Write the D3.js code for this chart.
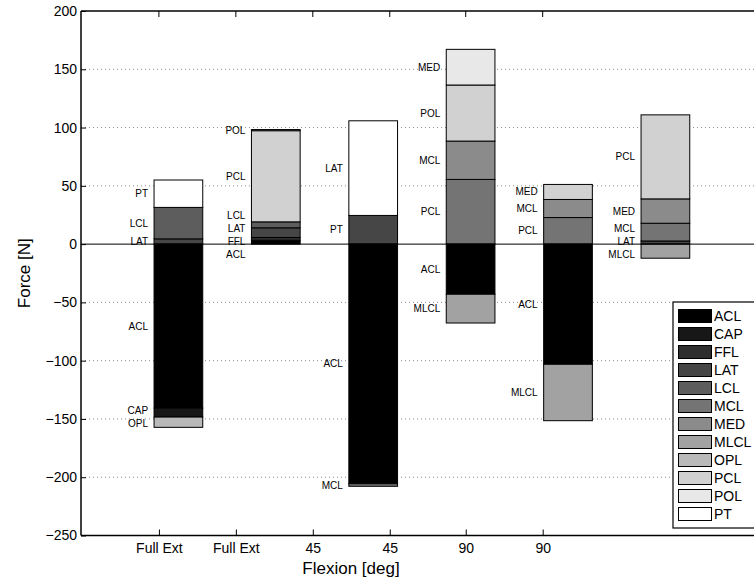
<!DOCTYPE html>
<html>
<head>
<meta charset="utf-8">
<script src="https://cdn.jsdelivr.net/npm/d3@7/dist/d3.min.js"></script>
<style>
  html, body { margin: 0; padding: 0; background: #fff; }
  svg { display: block; font-family: "Liberation Sans", Arial, Helvetica, sans-serif; }
</style>
</head>
<body>
<svg id="chart" width="754" height="582"></svg>
<script>
// Flexion positions shown along the x axis
const flexionLabels = ['Full Ext', 'Full Ext', '45', '45', '90', '90'];
const flexionTickPos = [0.8, 1.59, 2.38, 3.17, 3.95, 4.74];

// Ligament / structure names (legend order) and their grey shades
const ligaments = ['ACL', 'CAP', 'FFL', 'LAT', 'LCL', 'MCL', 'MED', 'MLCL', 'OPL', 'PCL', 'POL', 'PT'];

// Force ticks
const forceTicks = [200, 150, 100, 50, 0, -50, -100, -150, -200, -250];

// Per-bar segments: fill ligament, printed tag, force [N] (stacked from zero outward)
const bar1Fill = ['LAT', 'LCL', 'PT', 'ACL', 'CAP', 'OPL'];
const bar1Tag  = ['LAT', 'LCL', 'PT', 'ACL', 'CAP', 'OPL'];
const bar1Force = [4.5, 27.0, 23.5, -140.7, -7.7, -8.8];

const bar2Fill = ['ACL', 'FFL', 'LAT', 'LCL', 'PCL', 'POL'];
const bar2Tag  = ['ACL', 'FFL', 'LAT', 'LCL', 'PCL', 'POL'];
const bar2Force = [3.3, 2.4, 8.3, 5.1, 78.2, 1.0];

const bar3Fill = ['LAT', 'PT', 'ACL', 'MCL'];
const bar3Tag  = ['PT', 'LAT', 'ACL', 'MCL'];
const bar3Force = [24.6, 81.2, -205.6, -2.2];

const bar4Fill = ['MCL', 'MED', 'PCL', 'POL', 'ACL', 'MLCL'];
const bar4Tag  = ['PCL', 'MCL', 'POL', 'MED', 'ACL', 'MLCL'];
const bar4Force = [55.5, 32.9, 48.1, 30.6, -43.0, -24.7];

const bar5Fill = ['MCL', 'MED', 'PCL', 'ACL', 'MLCL'];
const bar5Tag  = ['PCL', 'MCL', 'MED', 'ACL', 'MLCL'];
const bar5Force = [22.8, 15.5, 12.9, -103.1, -48.4];

const bar6Fill = ['LAT', 'MCL', 'MED', 'PCL', 'MLCL'];
const bar6Tag  = ['LAT', 'MCL', 'MED', 'PCL', 'MLCL'];
const bar6Force = [2.7, 15.2, 20.9, 72.1, -12.1];

const bars = [
  { fill: bar1Fill, tag: bar1Tag, force: bar1Force },
  { fill: bar2Fill, tag: bar2Tag, force: bar2Force },
  { fill: bar3Fill, tag: bar3Tag, force: bar3Force },
  { fill: bar4Fill, tag: bar4Tag, force: bar4Force },
  { fill: bar5Fill, tag: bar5Tag, force: bar5Force },
  { fill: bar6Fill, tag: bar6Tag, force: bar6Force }
];

// ---- layout ----
const W = 754, H = 582;
const plot = { left: 81, right: 762.8, top: 11, bottom: 535.5 };
const svg = d3.select('#chart');

const x = d3.scaleLinear().domain([0, 7]).range([plot.left, plot.right]);
const y = d3.scaleLinear().domain([-250, 200]).range([plot.bottom, plot.top]);

// grey ramp: 12 evenly spaced levels from black to white
const shade = d3.scaleOrdinal()
  .domain(ligaments)
  .range(ligaments.map((d, i) => {
    const g = Math.round(255 * i / (ligaments.length - 1));
    return d3.rgb(g, g, g).formatHex();
  }));

const clipId = 'plotclip';
svg.append('defs').append('clipPath').attr('id', clipId)
  .append('rect').attr('x', plot.left).attr('y', plot.top - 1)
  .attr('width', W - plot.left).attr('height', plot.bottom - plot.top + 2);

const gPlot = svg.append('g').attr('clip-path', `url(#${clipId})`);

// dotted horizontal grid
gPlot.append('g').selectAll('line')
  .data(forceTicks.filter(t => t !== 0 && t !== 200 && t !== -250))
  .join('line')
  .attr('x1', plot.left).attr('x2', plot.right)
  .attr('y1', d => y(d)).attr('y2', d => y(d))
  .attr('stroke', '#8c8c8c').attr('stroke-width', 1)
  .attr('stroke-dasharray', '1,3');

// stacked segments
const barHalf = 0.25;
const segData = [];
const labelData = [];
bars.forEach((b, bi) => {
  let pos = 0, neg = 0;
  const labels = [];
  b.force.forEach((v, k) => {
    let y0, y1;
    if (v >= 0) { y0 = pos; y1 = pos + v; pos = y1; }
    else { y0 = neg; y1 = neg + v; neg = y1; }
    segData.push({ bar: bi + 1, lig: b.fill[k], y0, y1 });
    labels.push({ bar: bi + 1, text: b.tag[k], py: y((y0 + y1) / 2) });
  });
  // spread labels that would collide
  const gap = 13;
  labels.sort((a, c) => a.py - c.py);
  let clusters = labels.map(l => ({ m: [l], c: l.py }));
  let merged = true;
  while (merged) {
    merged = false;
    for (let i = 0; i < clusters.length - 1; i++) {
      const a = clusters[i], c = clusters[i + 1];
      const aEnd = a.c + (a.m.length - 1) * gap / 2;
      const cStart = c.c - (c.m.length - 1) * gap / 2;
      if (cStart - aEnd < gap) {
        const m = a.m.concat(c.m);
        clusters.splice(i, 2, { m, c: d3.mean(m, l => l.py) });
        merged = true;
        break;
      }
    }
  }
  clusters.forEach(cl => cl.m.forEach((l, k) => {
    l.ly = cl.c + (k - (cl.m.length - 1) / 2) * gap;
    labelData.push(l);
  }));
});

gPlot.append('g').selectAll('rect')
  .data(segData)
  .join('rect')
  .attr('x', d => x(d.bar - barHalf))
  .attr('width', d => x(d.bar + barHalf) - x(d.bar - barHalf))
  .attr('y', d => Math.min(y(d.y0), y(d.y1)))
  .attr('height', d => Math.abs(y(d.y0) - y(d.y1)))
  .attr('fill', d => shade(d.lig))
  .attr('stroke', '#000').attr('stroke-width', 1);

// zero reference line
gPlot.append('line')
  .attr('x1', plot.left).attr('x2', plot.right)
  .attr('y1', y(0)).attr('y2', y(0))
  .attr('stroke', '#000').attr('stroke-width', 1);

// segment tags to the left of each bar
svg.append('g').selectAll('text')
  .data(labelData)
  .join('text')
  .attr('x', d => x(d.bar - barHalf) - 6)
  .attr('y', d => d.ly)
  .attr('dy', '0.35em')
  .attr('text-anchor', 'end')
  .attr('font-size', 10)
  .attr('fill', '#000')
  .text(d => d.text);

// axes box
const gAxes = svg.append('g');
const fmt = v => (v < 0 ? '\u2212' + Math.abs(v) : String(v));

const yAxis = d3.axisLeft(y).tickValues(forceTicks).tickSize(-5).tickPadding(4).tickFormat(fmt);
gAxes.append('g').attr('transform', `translate(${plot.left},0)`).call(yAxis)
  .call(g => {
    g.select('.domain').remove();
    g.selectAll('text').attr('font-size', 14).attr('fill', '#000')
      .attr('font-family', '"Liberation Sans", Arial, sans-serif');
    g.selectAll('.tick line').attr('stroke', '#000');
  });

const xAxis = d3.axisBottom(x).tickValues(flexionTickPos).tickSize(-6).tickPadding(8)
  .tickFormat((d, i) => flexionLabels[i]);
gAxes.append('g').attr('transform', `translate(0,${plot.bottom})`).call(xAxis)
  .call(g => {
    g.select('.domain').remove();
    g.selectAll('text').attr('font-size', 14).attr('fill', '#000')
      .attr('font-family', '"Liberation Sans", Arial, sans-serif');
    g.selectAll('.tick line').attr('stroke', '#000');
  });

// top-edge ticks
gAxes.append('g').selectAll('line')
  .data(flexionTickPos)
  .join('line')
  .attr('x1', d => x(d)).attr('x2', d => x(d))
  .attr('y1', plot.top).attr('y2', plot.top + 6)
  .attr('stroke', '#000');

// frame lines
gAxes.append('line').attr('x1', plot.left).attr('x2', plot.left)
  .attr('y1', plot.top).attr('y2', plot.bottom).attr('stroke', '#000').attr('stroke-width', 1.5);
gAxes.append('line').attr('x1', plot.left).attr('x2', W + 5)
  .attr('y1', plot.bottom).attr('y2', plot.bottom).attr('stroke', '#000').attr('stroke-width', 1.5);
gAxes.append('line').attr('x1', plot.left).attr('x2', W + 5)
  .attr('y1', plot.top).attr('y2', plot.top).attr('stroke', '#000').attr('stroke-width', 1.5);

// axis titles
svg.append('text')
  .attr('x', 351)
  .attr('y', 574)
  .attr('text-anchor', 'middle')
  .attr('font-size', 17)
  .text('Flexion [deg]');

svg.append('text')
  .attr('transform', `translate(30,${(plot.top + plot.bottom) / 2}) rotate(-90)`)
  .attr('text-anchor', 'middle')
  .attr('font-size', 17)
  .text('Force [N]');

// legend
const leg = { x: 673, y: 302, w: 100, h: 226, row: 18, first: 316 };
const gLeg = svg.append('g');
gLeg.append('rect')
  .attr('x', leg.x).attr('y', leg.y).attr('width', leg.w).attr('height', leg.h)
  .attr('fill', '#fff').attr('stroke', '#000').attr('stroke-width', 1.2);
const items = gLeg.selectAll('g.item').data(ligaments).join('g').attr('class', 'item')
  .attr('transform', (d, i) => `translate(0,${leg.first + i * leg.row})`);
items.append('rect')
  .attr('x', leg.x + 5.5).attr('y', -6.5).attr('width', 33).attr('height', 13)
  .attr('fill', d => shade(d)).attr('stroke', '#000').attr('stroke-width', 1);
items.append('text')
  .attr('x', leg.x + 41).attr('y', 0).attr('dy', '0.36em')
  .attr('font-size', 14)
  .text(d => d);
</script>
</body>
</html>
